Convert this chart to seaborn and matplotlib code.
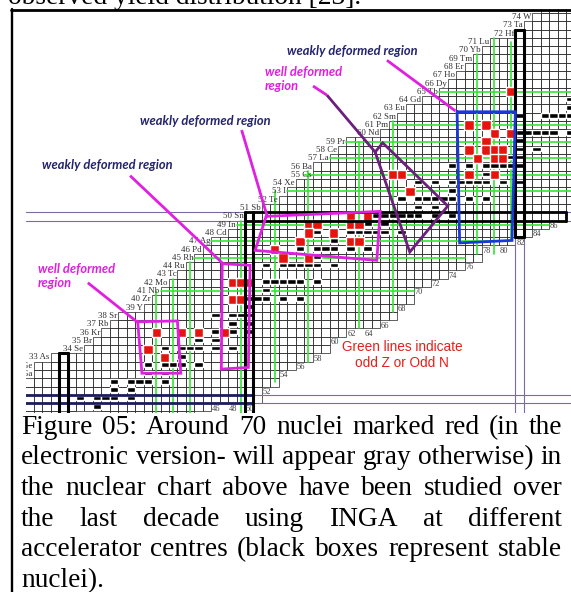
import numpy as np
import pandas as pd
import seaborn as sns
import matplotlib.pyplot as plt
from matplotlib.colors import ListedColormap
from matplotlib.lines import Line2D

sns.set_style('white')
plt.rcParams['font.family'] = ['DejaVu Sans']

# ---- chart outline: rows are proton number Z, columns neutron number N ----
row_z = list(range(26, 76))
row_first_n = [24, 24, 24, 24, 24, 25, 25, 27, 31, 32,
               33, 34, 35, 38, 39, 40, 41, 42, 43, 44,
               45, 46, 48, 49, 50, 52, 54, 55, 56, 58,
               58, 60, 61, 62, 66, 67, 68, 69, 71, 73,
               74, 75, 76, 77, 78, 79, 82, 83, 84, 85]
col_n = list(range(24, 91))
col_lowest_z = [26, 26, 26, 26, 26, 26, 26, 26, 26, 26,
                26, 26, 26, 26, 26, 26, 26, 26, 26, 26,
                27, 27, 28, 28, 28, 28, 28, 28, 30, 30,
                32, 32, 33, 33, 34, 34, 36, 36, 37, 37,
                37, 37, 38, 38, 40, 40, 42, 42, 43, 43,
                44, 44, 45, 45, 47, 47, 47, 47, 48, 48,
                49, 49, 50, 50, 51, 51, 51]

element_z = list(range(31, 75))
element_sym = ['Ga', 'Ge', 'As', 'Se', 'Br', 'Kr', 'Rb', 'Sr', 'Y', 'Zr',
               'Nb', 'Mo', 'Tc', 'Ru', 'Rh', 'Pd', 'Ag', 'Cd', 'In', 'Sn',
               'Sb', 'Te', 'I', 'Xe', 'Cs', 'Ba', 'La', 'Ce', 'Pr', 'Nd',
               'Pm', 'Sm', 'Eu', 'Gd', 'Tb', 'Dy', 'Ho', 'Er', 'Tm', 'Yb',
               'Lu', 'Hf', 'Ta', 'W']
n_label_values = [44, 46, 48, 50, 52, 54, 56, 58, 60, 62, 64, 66, 68,
                  70, 72, 74, 76, 78, 80, 82, 84, 86]

# stable nuclei (black boxes)
stable_z = [26, 26, 26, 26, 27, 28, 28, 28, 28, 28, 29, 29, 30, 30, 30, 30, 30,
            31, 31, 32, 32, 32, 32, 32, 33, 34, 34, 34, 34, 34, 34, 35, 35,
            36, 36, 36, 36, 36, 36, 37, 37, 38, 38, 38, 38, 39,
            40, 40, 40, 40, 40, 41, 42, 42, 42, 42, 42, 42, 42,
            44, 44, 44, 44, 44, 44, 44, 45, 46, 46, 46, 46, 46, 46, 47, 47,
            48, 48, 48, 48, 48, 48, 48, 48, 49, 49,
            50, 50, 50, 50, 50, 50, 50, 50, 50, 50, 51, 51,
            52, 52, 52, 52, 52, 52, 52, 52, 53,
            54, 54, 54, 54, 54, 54, 54, 54, 54, 55,
            56, 56, 56, 56, 56, 56, 56, 57, 57, 58, 58, 58, 58, 59,
            60, 60, 60, 60, 60, 60, 62, 62, 62, 62, 62, 63, 64]
stable_n = [28, 30, 31, 32, 32, 30, 32, 33, 34, 36, 34, 36, 34, 36, 37, 38, 40,
            38, 40, 38, 40, 41, 42, 44, 42, 40, 42, 43, 44, 46, 48, 44, 46,
            42, 44, 46, 47, 48, 50, 48, 50, 46, 48, 49, 50, 50,
            50, 51, 52, 54, 56, 52, 50, 52, 53, 54, 55, 56, 58,
            52, 54, 55, 56, 57, 58, 60, 58, 56, 58, 59, 60, 62, 64, 60, 62,
            58, 60, 62, 63, 64, 65, 66, 68, 64, 66,
            62, 64, 65, 66, 67, 68, 69, 70, 72, 74, 70, 72,
            68, 70, 71, 72, 73, 74, 76, 78, 74,
            70, 72, 74, 75, 76, 77, 78, 80, 82, 78,
            74, 76, 78, 79, 80, 81, 82, 81, 82, 78, 80, 82, 84, 82,
            82, 83, 84, 85, 86, 88, 82, 85, 86, 87, 88, 88, 88]

# nuclei studied with INGA (red boxes)
studied_n = [38, 39, 40, 42, 44, 47, 48, 49, 48, 49, 50,
             53, 54, 56, 57, 58, 57, 57, 60, 62, 62, 63, 64, 62, 63,
             67, 68, 69, 76, 79, 76, 78, 79, 81, 78, 78, 76, 79, 80,
             77, 79, 80, 81]
studied_z = [34, 36, 33, 36, 36, 36, 40, 40, 42, 42, 42,
             46, 45, 47, 49, 49, 48, 45, 48, 50, 49, 49, 50, 47, 47,
             55, 55, 53, 55, 55, 61, 61, 60, 60, 59, 58, 58, 58, 58,
             57, 57, 57, 65]

# green guide lines (odd Z rows, odd N columns)
green_z = [41, 45, 47, 49, 53, 55, 57, 59, 61, 65]
green_z_from = [40, 44, 46, 49, 55, 57, 60, 62, 67.5, 73]
green_z_to = [70, 76, 80, 86, 90, 90, 90, 90, 90, 90]
green_n = [39, 41, 43, 49, 53, 57, 63, 67, 77, 79, 81]
green_n_top = [41.5, 43, 45, 50, 53.5, 56, 59.5, 62, 70, 72, 71.5]
green_n_bottom = [26, 26, 26, 26, 30.5, 33, 37, 39, 46, 46, 47.6]

# region outlines, in (N, Z) chart units
reg_well_low = [(37.3, 37.8), (42.0, 37.9), (42.4, 31.6), (37.8, 31.6)]
reg_weak_low = [(47.3, 44.8), (50.6, 44.6), (50.4, 32.3), (47.2, 32.1)]
reg_weak_mid = [(52.5, 50.5), (66.0, 51.1), (65.6, 45.2), (51.2, 46.4)]
reg_weak_top = [(75.1, 63.1), (82.0, 63.1), (81.6, 47.6), (75.4, 47.3)]
reg_well_top = [(65.4, 58.25), (66.3, 59.35), (74.0, 51.75), (69.5, 46.2)]

caption_lines = ['Figure 05: Around 70 nuclei marked red (in the',
                 'electronic version- will appear gray otherwise) in',
                 'the nuclear chart above have been studied over',
                 'the last decade using INGA at different',
                 'accelerator centres (black boxes represent stable',
                 'nuclei).']

navy = '#24246f'
magenta = '#e020e0'
green = '#33e633'
red = '#e5140e'
purple_thin = '#7b6aa6'

W, H = 571, 592
fig = plt.figure(figsize=(W / 100, H / 100), dpi=100)
ax = fig.add_axes([26 / W, 1 - 413 / H, 545 / W, 404 / H])

N0 = col_n[0]
ZTOP = row_z[-1]


def hx(n):
    return n - N0


def hy(z):
    return ZTOP + 1 - z


first_n = dict(zip(row_z, row_first_n))
low_z = dict(zip(col_n, col_lowest_z))
studied = set(zip(studied_n, studied_z))

# cell table: 0 = empty box, 1 = studied, NaN = outside the chart
grid = pd.DataFrame(np.nan, index=row_z[::-1], columns=col_n)
for z in row_z:
    for n in col_n:
        if n >= first_n[z] and z >= low_z[n]:
            grid.loc[z, n] = 1.0 if (n, z) in studied else 0.0

sns.heatmap(grid, ax=ax, cmap=ListedColormap(['white', red]),
            vmin=0, vmax=1, cbar=False, linewidths=0,
            xticklabels=False, yticklabels=False)

# box outlines of every cell of the chart
cells = grid.stack().reset_index()
cells.columns = ['Z', 'N', 'v']
ax.bar([hx(n + 0.5) for n in cells['N']], 1.0,
       bottom=[hy(z + 1) for z in cells['Z']], width=1.0,
       fill=False, edgecolor='#333333', linewidth=0.55, zorder=2)

# green lines
for z, a, b in zip(green_z, green_z_from, green_z_to):
    ax.plot([hx(a), hx(b)], [hy(z + 0.5)] * 2, color=green, lw=1.2, zorder=3)
for n, a, b in zip(green_n, green_n_top, green_n_bottom):
    ax.plot([hx(n + 0.5)] * 2, [hy(a), hy(b)], color=green, lw=1.2, zorder=3)

# stable nuclei
st = [(n, z) for n, z in zip(stable_n, stable_z) if (n, z) not in studied]
ax.bar([hx(n + 0.5) for n, z in st], 0.55,
       bottom=[hy(z + 1) + 0.1 for n, z in st], width=1.0,
       color='black', zorder=4)
# studied nuclei, drawn a little larger over the grid lines
ax.bar([hx(n + 0.5) for n in studied_n], 1.12,
       bottom=[hy(z + 1) - 0.06 for z in studied_z], width=1.12,
       color=red, zorder=5)

# closed shells
for z in (28, 29, 50, 51):
    ax.axhline(hy(z), color=purple_thin, lw=0.8, zorder=2)
for n in (82, 83):
    ax.plot([hx(n)] * 2, [hy(25), hy(48)], color=purple_thin, lw=0.8, zorder=2)
for z in (28, 29):
    ax.plot([hx(24), hx(51)], [hy(z)] * 2, color='#1c1c5c', lw=2.0, zorder=6)
for z in (50, 51):
    ax.plot([hx(50), hx(88)], [hy(z)] * 2, color='black', lw=2.0, zorder=6)
ax.plot([hx(88)] * 2, [hy(50), hy(51)], color='black', lw=2.0, zorder=6)
for n in (50, 51):
    ax.plot([hx(n)] * 2, [hy(25), hy(51)], color='black', lw=2.2, zorder=6)
for n in (82, 83):
    ax.plot([hx(n)] * 2, [hy(48), hy(73)], color='black', lw=2.2, zorder=6)
for z in (48, 73):
    ax.plot([hx(82), hx(83)], [hy(z)] * 2, color='black', lw=2.2, zorder=6)
for n in (28, 29):
    ax.plot([hx(n)] * 2, [hy(25), hy(34)], color='black', lw=2.2, zorder=6)
ax.plot([hx(28), hx(29)], [hy(34)] * 2, color='black', lw=2.2, zorder=6)

# element and neutron-number labels
for z, s in zip(element_z, element_sym):
    ax.text(hx(first_n[z]) - 0.12, hy(z + 0.5), f'{z} {s}', ha='right',
            va='center', fontsize=6.4, family='Liberation Serif',
            color='#303030', clip_on=True, zorder=7)
for n in n_label_values:
    ax.text(hx(n + 0.6), hy(low_z[n] - 0.65), str(n), ha='center',
            va='center', fontsize=6.0, family='Liberation Serif',
            color='#404040', clip_on=True, zorder=7)

# region outlines and pointers
for poly, col in ((reg_well_low, magenta), (reg_weak_low, magenta),
                  (reg_weak_mid, magenta), (reg_weak_top, '#1a38d8'),
                  (reg_well_top, '#6c1f7c')):
    xs = [hx(p[0]) for p in poly] + [hx(poly[0][0])]
    ys = [hy(p[1]) for p in poly] + [hy(poly[0][1])]
    ax.plot(xs, ys, color=col, lw=2.0, zorder=8, solid_joinstyle='miter')

pointers = [((31.4, 42.5), (37.2, 37.8), magenta),
            ((36.4, 55.4), (47.3, 44.9), magenta),
            ((49.6, 60.9), (52.6, 50.6), magenta),
            ((66.8, 69.3), (74.9, 63.2), magenta),
            ((58.05, 66.2), (59.7, 65.1), magenta),
            ((59.7, 65.1), (65.4, 58.25), '#6c1f7c')]
for a, b, col in pointers:
    ax.plot([hx(a[0]), hx(b[0])], [hy(a[1]), hy(b[1])], color=col, lw=2.0,
            zorder=8, solid_capstyle='butt')

note_font = dict(family=['Lato', 'DejaVu Sans'], style='italic',
                 weight='bold', fontsize=9.3)
ax.text(hx(54.97), hy(70.42), 'weakly deformed region', color=navy,
        va='center', **note_font)
ax.text(hx(37.57), hy(61.99), 'weakly deformed region', color=navy,
        va='center', **note_font)
ax.text(hx(25.98), hy(56.69), 'weakly deformed region', color=navy,
        va='center', **note_font)
ax.text(hx(52.37), hy(66.99), 'well deformed\nregion', color=magenta,
        va='center', linespacing=1.2, **note_font)
ax.text(hx(25.5), hy(43.31), 'well deformed\nregion', color=magenta,
        va='center', linespacing=1.2, **note_font)
ax.text(hx(68.58), hy(33.8), 'Green lines indicate\nodd Z or Odd N',
        color='#e81e1a', ha='center', va='center', fontsize=9.8,
        family='Liberation Sans', linespacing=1.1, zorder=9)

ax.set_xlim(hx(24.08), hx(88.58))
ax.set_ylim(hy(26.81), hy(75.48))
ax.axis('off')

# frame of the figure box
fig.add_artist(Line2D([12 / W, 12 / W], [0, 1 - 9 / H], color='black',
                      lw=1.7, transform=fig.transFigure))
fig.add_artist(Line2D([11 / W, 1], [1 - 9.5 / H, 1 - 9.5 / H], color='black',
                      lw=2.0, transform=fig.transFigure))

# caption: font size so that the tightest line fills the column width
fig.canvas.draw()
renderer = fig.canvas.get_renderer()
left_px, right_px = 21, 562
probe = fig.text(0, 0, caption_lines[1], family='Liberation Serif', fontsize=18)
cap_size = 18 * (right_px - left_px) / probe.get_window_extent(renderer).width
probe.remove()
serif = dict(family='Liberation Serif', fontsize=cap_size, color='black')

fig.text(8 / W, 1 - 3.5 / H, 'observed yield distribution [23].',
         va='baseline', **serif)

sp = fig.text(0, 0, 'a a', **serif)
sa = fig.text(0, 0, 'aa', **serif)
space_w = sp.get_window_extent(renderer).width - sa.get_window_extent(renderer).width
sp.remove()
sa.remove()

baselines = [434, 464.5, 495, 525.5, 556, 587]
for i, line in enumerate(caption_lines):
    words = line.split()
    objs = [fig.text(0, 1 - baselines[i] / H, w, va='baseline', **serif)
            for w in words]
    widths = [o.get_window_extent(renderer).width for o in objs]
    if i < len(caption_lines) - 1:
        gap = (right_px - left_px - sum(widths)) / (len(words) - 1)
    else:
        gap = space_w
    x = left_px
    for o, w in zip(objs, widths):
        o.set_x(x / W)
        x += w + gap

fig.savefig('out.png', dpi=100)
